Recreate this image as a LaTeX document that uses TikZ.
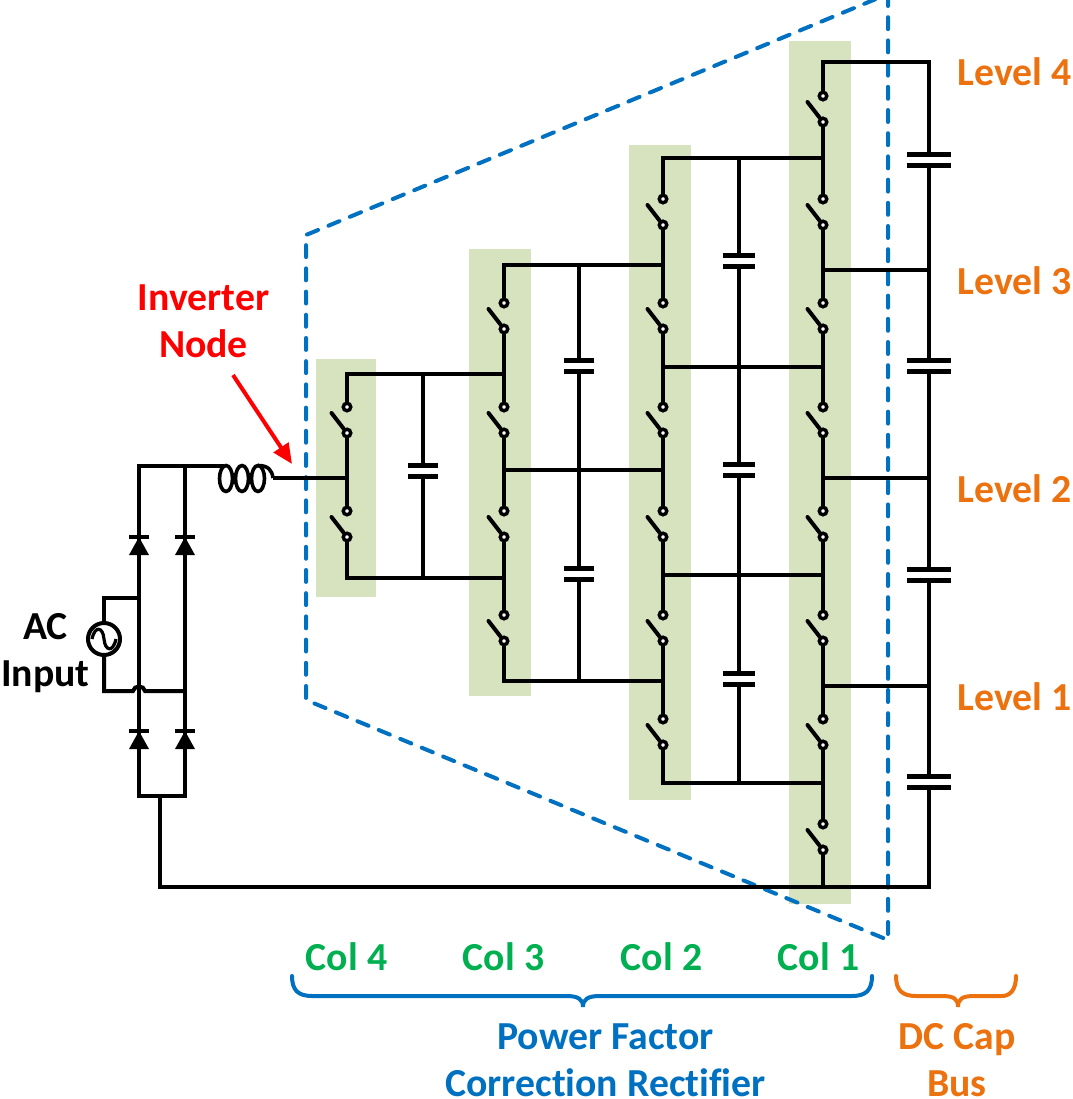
\documentclass[tikz,border=0pt]{standalone}
\usepackage{fontspec}
\setmainfont{Carlito}[Ligatures=NoCommon]
\usetikzlibrary{arrows.meta,positioning}

\definecolor{cellgreen}{HTML}{D7E3BF}
\definecolor{pfcblue}{HTML}{0070C0}
\definecolor{busorange}{HTML}{EC7210}
\definecolor{colgreen}{HTML}{00B050}

\tikzset{
  wire/.style={line width=3pt,black},
  term/.style={circle,draw=black,fill=white,line width=2.6pt,inner sep=0pt,minimum size=5.6pt},
  cell/.style={fill=cellgreen,draw=none},
  trapez/.style={draw=pfcblue,line width=3pt,dash pattern=on 9pt off 8.4pt,line cap=round},
  tag/.style={font=\bfseries\fontsize{29.8}{35.6}\selectfont,inner sep=0pt,align=center},
  brace/.style={line width=3pt,line cap=round},
}

% switch: name, x, y of upper terminal
\newcommand{\swt}[3]{
  \node[term] (#1t) at (#2,#3) {};
  \node[term] (#1b) at (#2,#3+26) {};
  \draw[wire,line cap=round] (#2-15.5,#3+6) -- (#1b);
}
% capacitor: name, x, y, half width of the plates
\newcommand{\capa}[4]{
  \coordinate (#1t) at (#2,#3-5.5);
  \coordinate (#1b) at (#2,#3+5.5);
  \draw[line width=3.4pt] (#2-#4,#3-5.5) -- (#2+#4,#3-5.5);
  \draw[line width=3.4pt] (#2-#4,#3+5.5) -- (#2+#4,#3+5.5);
}
% diode: x, y of the bar
\newcommand{\dio}[2]{
  \fill (#1,#2) -- (#1+10,#2+18) -- (#1-10,#2+18) -- cycle;
  \draw[line width=3pt] (#1-10,#2) -- (#1+10,#2);
}

\begin{document}
\begin{tikzpicture}[x=0.75pt,y=-0.75pt]
\useasboundingbox (0,0) rectangle (1073,1099);

% cells
\fill[cell] (789,41) rectangle (851,904);
\fill[cell] (629,145) rectangle (691,800);
\fill[cell] (469,249) rectangle (531,696);
\fill[cell] (316,359) rectangle (376,597);

% dashed outline
\coordinate (tl) at (306,235);
\coordinate (tr) at (888,-6);
\coordinate (br) at (888,940);
\coordinate (bl) at (306,700);
\draw[trapez] (tr) -- (br) -- (bl) -- (tl) -- (tr);

% col 1
\swt{a}{823}{96}
\swt{b}{823}{199}
\swt{c}{823}{303}
\swt{d}{823}{407}
\swt{e}{823}{511}
\swt{f}{823}{615}
\swt{g}{823}{719}
\swt{h}{823}{824}
% col 2
\swt{i}{663}{199}
\swt{j}{663}{303}
\swt{k}{663}{407}
\swt{l}{663}{511}
\swt{m}{663}{615}
\swt{n}{663}{719}
% col 3
\swt{o}{504}{303}
\swt{p}{504}{407}
\swt{q}{504}{511}
\swt{r}{504}{615}
% col 4
\swt{s}{347}{407}
\swt{u}{347}{511}

% caps
\capa{v1}{929}{160}{22}
\capa{v2}{929}{366}{22}
\capa{v3}{929}{575}{22}
\capa{v4}{929}{782}{22}
\capa{w1}{739}{261}{16}
\capa{w2}{739}{470}{16}
\capa{w3}{739}{679}{16}
\capa{x1}{579}{366}{15}
\capa{x2}{579}{574}{15}
\capa{y1}{423}{471}{15}

% col 1 wires
\draw[wire] (at) -- (823,62) -- (929,62) -- (v1t);
\draw[wire] (ab) -- (bt);
\draw[wire] (bb) -- (ct);
\draw[wire] (cb) -- (dt);
\draw[wire] (db) -- (et);
\draw[wire] (eb) -- (ft);
\draw[wire] (fb) -- (gt);
\draw[wire] (gb) -- (ht);
\draw[wire] (hb) -- (823,887);
% col 2 wires
\draw[wire] (823,158) -- (663,158) -- (it);
\draw[wire] (ib) -- (jt);
\draw[wire] (jb) -- (kt);
\draw[wire] (kb) -- (lt);
\draw[wire] (lb) -- (mt);
\draw[wire] (mb) -- (nt);
\draw[wire] (nb) -- (663,783) -- (823,783);
% col 3 wires
\draw[wire] (663,265) -- (504,265) -- (ot);
\draw[wire] (ob) -- (pt);
\draw[wire] (pb) -- (qt);
\draw[wire] (qb) -- (rt);
\draw[wire] (rb) -- (504,681) -- (663,681);
% col 4 wires
\draw[wire] (504,374) -- (347,374) -- (st);
\draw[wire] (sb) -- (ut);
\draw[wire] (ub) -- (347,578) -- (504,578);

% links between columns
\draw[wire] (823,270) -- (929,270);
\draw[wire] (823,478) -- (929,478);
\draw[wire] (823,686) -- (929,686);
\draw[wire] (663,367) -- (823,367);
\draw[wire] (663,575) -- (823,575);
\draw[wire] (504,470) -- (663,470);

% cap legs
\draw[wire] (v1b) -- (v2t);
\draw[wire] (v2b) -- (v3t);
\draw[wire] (v3b) -- (v4t);
\draw[wire] (v4b) -- (929,887) -- (160,887) -- (160,796);
\draw[wire] (739,158) -- (w1t);
\draw[wire] (w1b) -- (w2t);
\draw[wire] (w2b) -- (w3t);
\draw[wire] (w3b) -- (739,783);
\draw[wire] (579,265) -- (x1t);
\draw[wire] (x1b) -- (x2t);
\draw[wire] (x2b) -- (579,681);
\draw[wire] (423,374) -- (y1t);
\draw[wire] (y1b) -- (423,578);

% rectifier
\dio{139}{537}
\dio{185}{537}
\dio{139}{731}
\dio{185}{731}
\draw[wire] (224,466) -- (139,466) -- (139,796) -- (185,796) -- (185,466);

% inductor
\draw[line width=2.7pt] (226,478.5) ellipse (6.5 and 13);
\draw[line width=2.7pt] (242,478.5) ellipse (6.5 and 13);
\draw[line width=2.7pt] (258,478.5) ellipse (6.5 and 13);
\draw[line width=2.7pt] (258,465.5) .. controls (268,465.5) and (272,470) .. (273,478);
\draw[wire] (273,478) -- (347,478);

% ac source
\node[circle,draw=black,line width=3pt,inner sep=0pt,minimum size=24pt] (src) at (104,639) {};
\draw[line width=2.4pt] (92,639) .. controls (95,625) and (103,627) .. (104,639) .. controls (105,651) and (113,653) .. (116,639);
\draw[wire] (src.north) -- (104,598) -- (139,598);
\draw[wire] (src.south) -- (104,691) -- (133,691) .. controls (134,685) and (144,685) .. (145,691) -- (185,691);

% inverter arrow
\coordinate (arrfrom) at (233,375);
\coordinate (arrto) at (292,464);
\draw[red,line width=3pt,-{Triangle[length=15pt,width=13pt]}] (arrfrom) -- (arrto);

% labels
\node[tag,red] (inv) at (203.5,321.5) {Inverter\\Node};
\node[tag] (acin) at (45.5,653) {AC\\Input};
\node[tag,busorange] (lv4) at (1014.5,72) {Level 4};
\node[tag,busorange] (lv3) at (1014.5,281) {Level 3};
\node[tag,busorange] (lv2) at (1014.5,489) {Level 2};
\node[tag,busorange] (lv1) at (1014.5,697) {Level 1};
\node[tag,colgreen] (col4) at (346.5,957) {Col 4};
\node[tag,colgreen] (col3) at (503.5,957) {Col 3};
\node[tag,colgreen] (col2) at (661.5,957) {Col 2};
\node[tag,colgreen] (col1) at (818.5,957) {Col 1};
\node[tag,pfcblue] (pfc) at (605.5,1060) {Power Factor\\Correction Rectifier};
\node[tag,busorange] (dcb) at (957,1060) {DC Cap\\Bus};

% braces
\draw[brace,pfcblue] (292,976) .. controls (292,990) and (298,996) .. (312,996) -- (566,996) .. controls (578,996) and (583,999) .. (583,1007) .. controls (583,999) and (588,996) .. (600,996) -- (852,996) .. controls (866,996) and (872,990) .. (872,976);
\draw[brace,busorange] (896,976) .. controls (896,990) and (902,996) .. (916,996) -- (942,996) .. controls (954,996) and (958,999) .. (958,1007) .. controls (958,999) and (962,996) .. (974,996) -- (1002,996) .. controls (1010,996) and (1016,990) .. (1016,976);
\end{tikzpicture}
\end{document}
